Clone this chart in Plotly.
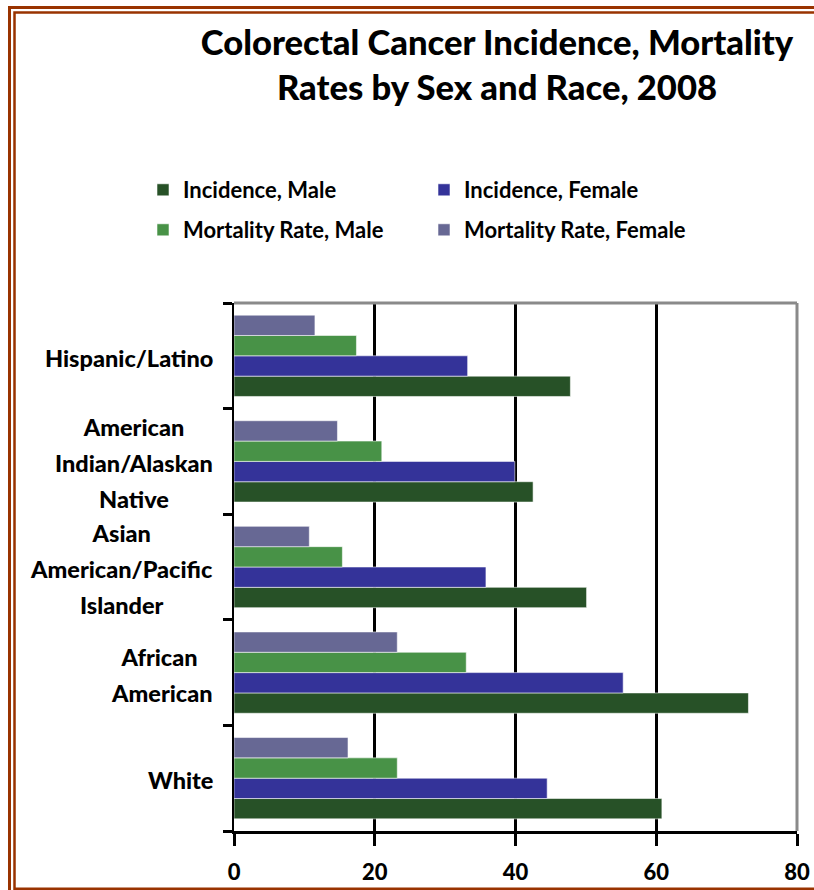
import plotly.graph_objects as go

# ---------------- data ----------------
categories = ["Hispanic/Latino", "American Indian/Alaskan Native",
              "Asian American/Pacific Islander", "African American", "White"]
category_lines = [["Hispanic/Latino"],
                  ["American", "Indian/Alaskan", "Native"],
                  ["Asian", "American/Pacific", "Islander"],
                  ["African\u00a0", "American"],
                  ["White"]]
incidence_male = [47.8, 42.5, 50.1, 73.1, 60.8]
incidence_female = [33.2, 39.9, 35.8, 55.3, 44.5]
mortality_male = [17.4, 21.0, 15.4, 33.0, 23.2]
mortality_female = [11.5, 14.7, 10.7, 23.2, 16.2]
series_names = ["Incidence, Male", "Incidence, Female",
                "Mortality Rate, Male", "Mortality Rate, Female"]
x_ticks = [0, 20, 40, 60, 80]
title_lines = ["Colorectal Cancer Incidence, Mortality", "Rates by Sex and Race, 2008"]

# ---------------- styling ----------------
W, H = 814, 890
L, R, T, B = 234, 17, 303, 59
colors = ["#275127", "#343399", "#489247", "#676894"]
FONT = "Lato"
BORDER = "#993300"

series = [incidence_male, incidence_female, mortality_male, mortality_female]
legend_ids = ["legend", "legend", "legend2", "legend2"]

fig = go.Figure()
for name, vals, col, lg in zip(series_names, series, colors, legend_ids):
    fig.add_trace(go.Bar(
        y=categories, x=vals, name=name, orientation="h",
        marker=dict(color=col, line=dict(color="rgba(255,255,255,0.55)", width=1)),
        legend=lg, hoverinfo="x+name",
    ))

pw = W - L - R
ph = H - T - B
def px_x(p):
    return (p - L) / pw
def px_y(p):
    return (H - B - p) / ph

shapes = [
    # plot border top / right (gray)
    dict(type="line", xref="paper", yref="paper", x0=0, x1=1, y0=1, y1=1,
         line=dict(color="#8a8a8a", width=3), layer="above"),
    dict(type="line", xref="paper", yref="paper", x0=1, x1=1, y0=0, y1=1,
         line=dict(color="#8a8a8a", width=3), layer="above"),
    # page border (double brown)
    dict(type="rect", xref="paper", yref="paper",
         x0=px_x(9.5), x1=px_x(830), y0=px_y(900), y1=px_y(7.5),
         line=dict(color=BORDER, width=3), layer="above"),
    dict(type="rect", xref="paper", yref="paper",
         x0=px_x(14.5), x1=px_x(830), y0=px_y(888.8), y1=px_y(12.5),
         line=dict(color=BORDER, width=2.5), layer="above"),
]

annotations = []
for cat, lines in zip(categories, category_lines):
    txt = "<br>".join("<span style='font-size:23.5px'>%s</span>" % ln for ln in lines)
    annotations.append(dict(
        xref="paper", yref="y", x=px_x(215), y=cat, xanchor="right", yanchor="middle",
        yshift=-2,
        text=txt, showarrow=False, align="center",
        font=dict(family=FONT, size=27.7, color="black", weight=900),
    ))

title_txt = "<br>".join(title_lines)

legend_common = dict(orientation="h", xref="container", yref="container",
                     xanchor="left", yanchor="middle",
                     entrywidth=236, entrywidthmode="pixels",
                     font=dict(family=FONT, size=22, color="black", weight="bold"),
                     bgcolor="rgba(0,0,0,0)", itemclick=False)

fig.update_layout(
    width=W, height=H,
    margin=dict(l=L, r=R, t=T, b=B, autoexpand=False),
    paper_bgcolor="white", plot_bgcolor="white",
    barmode="group", bargap=0.23, bargroupgap=0,
    title=dict(text=title_txt, x=497 / W, xanchor="center", xref="container",
               y=1 - 55 / H, yanchor="top", yref="container",
               font=dict(family=FONT, size=34.6, color="black", weight=900)),
    font=dict(family=FONT, color="black"),
    legend=dict(legend_common, x=143 / W, y=1 - 190 / H),
    legend2=dict(legend_common, x=143 / W, y=1 - 230 / H),
    xaxis=dict(range=[0, 80], tickvals=x_ticks, ticktext=[str(v) for v in x_ticks],
               ticks="outside", ticklen=12, tickwidth=3, tickcolor="black",
               showline=True, linecolor="black", linewidth=3,
               showgrid=True, gridcolor="black", gridwidth=3, zeroline=False,
               tickfont=dict(family=FONT, size=22, color="black", weight=900),
               ticklabelstandoff=8, fixedrange=True),
    xaxis2=dict(overlaying="x", matches="x", anchor="y", side="bottom",
                range=[0, 80], tickvals=x_ticks, showticklabels=False,
                ticks="inside", ticklen=12, tickwidth=3, tickcolor="black",
                showline=False, showgrid=False, zeroline=False, fixedrange=True),
    yaxis=dict(type="category", categoryorder="array", categoryarray=categories[::-1],
               tickson="boundaries", ticks="outside", ticklen=9, tickwidth=3,
               tickcolor="black", showline=True, linecolor="black", linewidth=2,
               showticklabels=False, showgrid=False, zeroline=False, fixedrange=True),
    shapes=shapes,
    annotations=annotations,
)

fig.write_html("out.html")
